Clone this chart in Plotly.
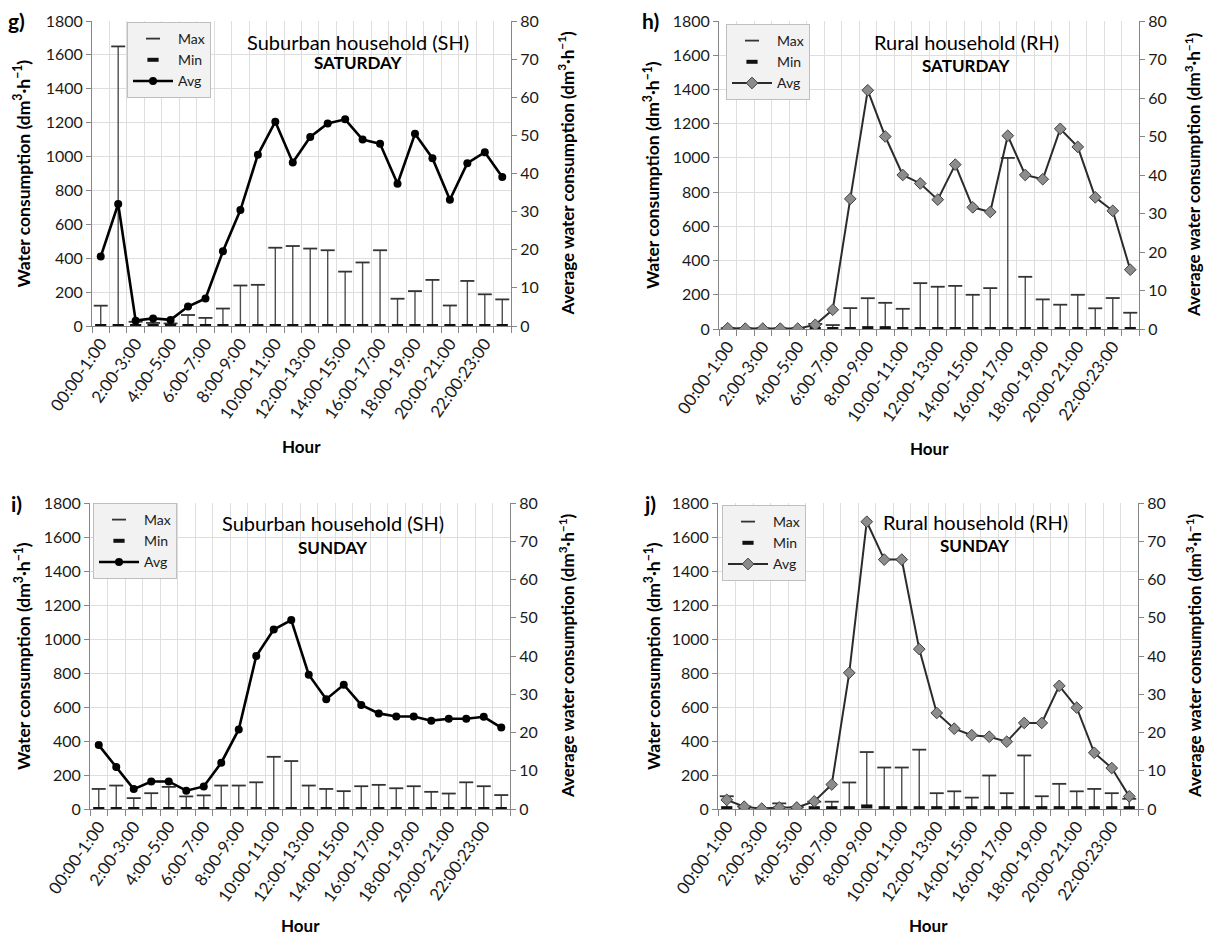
import plotly.graph_objects as go

# Hour-of-day categories (the 22:00 label is printed as in the source table)
hours = ["00:00-1:00", "1:00-2:00", "2:00-3:00", "3:00-4:00", "4:00-5:00", "5:00-6:00",
         "6:00-7:00", "7:00-8:00", "8:00-9:00", "9:00-10:00", "10:00-11:00", "11:00-12:00",
         "12:00-13:00", "13:00-14:00", "14:00-15:00", "15:00-16:00", "16:00-17:00",
         "17:00-18:00", "18:00-19:00", "19:00-20:00", "20:00-21:00", "21:00-22:00",
         "22:00:23:00", "23:00-24:00"]

# Suburban household, Saturday
sh_sat_max = [120, 1650, 25, 18, 15, 65, 48, 103, 239, 243, 462, 472, 457, 447, 321, 375,
              447, 161, 206, 272, 121, 266, 187, 157]
sh_sat_min = [0, 0, 0, 0, 0, 0, 0, 0, 0, 0, 0, 0, 0, 0, 0, 0, 0, 0, 0, 0, 0, 0, 0, 0]
sh_sat_avg = [18.2, 32.0, 1.4, 2.0, 1.6, 5.1, 7.2, 19.6, 30.4, 44.9, 53.6, 42.9, 49.6, 53.1,
              54.2, 48.9, 47.8, 37.3, 50.4, 44.0, 33.1, 42.7, 45.6, 39.1]

# Rural household, Saturday
rh_sat_max = [5, 3, 3, 2, 3, 30, 23, 122, 180, 153, 118, 268, 247, 252, 200, 239, 1000, 305,
              173, 142, 200, 121, 181, 95]
rh_sat_min = [0, 0, 0, 0, 0, 0, 0, 0, 5, 5, 0, 0, 0, 0, 0, 0, 0, 0, 0, 0, 0, 0, 0, 0]
rh_sat_avg = [0.2, 0.1, 0.1, 0.1, 0.1, 1.1, 5.0, 33.8, 62.0, 50.0, 40.0, 37.8, 33.6, 42.7,
              31.6, 30.4, 50.2, 40.0, 38.9, 52.0, 47.3, 34.2, 30.7, 15.4]

# Suburban household, Sunday
sh_sun_max = [118, 138, 64, 93, 130, 74, 80, 138, 138, 157, 307, 282, 138, 118, 105, 134, 142,
              122, 134, 101, 91, 157, 134, 82]
sh_sun_min = [0, 0, 0, 0, 0, 0, 0, 0, 0, 0, 0, 0, 0, 0, 0, 0, 0, 0, 0, 0, 0, 0, 0, 0]
sh_sun_avg = [16.7, 11.0, 5.2, 7.2, 7.2, 4.8, 5.9, 12.1, 20.8, 40.0, 46.9, 49.4, 35.1, 28.7,
              32.5, 27.2, 25.0, 24.2, 24.2, 23.1, 23.6, 23.6, 24.1, 21.3]

# Rural household, Sunday
rh_sun_max = [75, 15, 3, 33, 10, 43, 43, 156, 335, 244, 244, 349, 93, 104, 67, 197, 93, 315,
              75, 148, 104, 118, 93, 60]
rh_sun_min = [5, 5, 0, 5, 5, 5, 5, 5, 15, 5, 5, 5, 5, 5, 5, 5, 5, 5, 5, 5, 5, 5, 5, 5]
rh_sun_avg = [2.4, 0.6, 0.1, 0.4, 0.4, 2.0, 6.4, 35.6, 75.1, 65.2, 65.2, 41.8, 25.1, 21.0,
              19.3, 18.9, 17.6, 22.5, 22.5, 32.2, 26.5, 14.7, 10.7, 3.3]

panels = [
    dict(tag="g)", house="Suburban household (SH)", day="SATURDAY", mx=sh_sat_max,
         mn=sh_sat_min, avg=sh_sat_avg, rural=False,
         px=(92, 511), py=(21, 326), leg=(127, 22), title_x=358, title_y=(42, 63),
         tag_x=16, ltitle_x=22, rtitle_x=566, hour_y=446),
    dict(tag="h)", house="Rural household (RH)", day="SATURDAY", mx=rh_sat_max,
         mn=rh_sat_min, avg=rh_sat_avg, rural=True,
         px=(719, 1139), py=(21, 329), leg=(726, 24), title_x=966, title_y=(42, 65),
         tag_x=650, ltitle_x=652, rtitle_x=1193, hour_y=448),
    dict(tag="i)", house="Suburban household (SH)", day="SUNDAY", mx=sh_sun_max,
         mn=sh_sun_min, avg=sh_sun_avg, rural=False,
         px=(90, 510), py=(503, 809), leg=(93, 503), title_x=333, title_y=(523, 547),
         tag_x=16, ltitle_x=22, rtitle_x=566, hour_y=925),
    dict(tag="j)", house="Rural household (RH)", day="SUNDAY", mx=rh_sun_max,
         mn=rh_sun_min, avg=rh_sun_avg, rural=True,
         px=(718, 1138), py=(503, 809), leg=(722, 505), title_x=975, title_y=(522, 545),
         tag_x=650, ltitle_x=652, rtitle_x=1193, hour_y=925),
]

W, H = 1212, 938
FONT = "Lato, 'Open Sans', sans-serif"
AXIS = "#868686"
GRID = "#dedede"
TXT = "#1a1a1a"


def fx(p):
    return p / W


def fy(p):
    return 1 - p / H


xs = list(range(len(hours)))
fig = go.Figure()
layout = {}
annotations = []

for k, p in enumerate(panels):
    n = k + 1
    xname = "x" if n == 1 else f"x{n}"
    yname = "y" if n == 1 else f"y{n}"
    y2name = f"y{n + 4}"
    legname = "legend" if n == 1 else f"legend{n}"

    # high-low connector lines between hourly min and max
    lx, ly = [], []
    for i in xs:
        lx += [i, i, None]
        ly += [p["mn"][i], p["mx"][i], None]
    fig.add_trace(go.Scatter(x=lx, y=ly, mode="lines", xaxis=xname, yaxis=yname,
                             line=dict(color="#4d4d4d", width=1.4), showlegend=False,
                             hoverinfo="skip"))
    fig.add_trace(go.Scatter(x=xs, y=p["mx"], mode="markers", name="Max", xaxis=xname,
                             yaxis=yname, legend=legname,
                             marker=dict(symbol="line-ew", size=10,
                                         line=dict(color="#333333", width=1.8))))
    fig.add_trace(go.Scatter(x=xs, y=p["mn"], mode="markers", name="Min", xaxis=xname,
                             yaxis=yname, legend=legname,
                             marker=dict(symbol="line-ew", size=8,
                                         line=dict(color="#111111", width=4))))
    if p["rural"]:
        line = dict(color="#2b2b2b", width=2)
        marker = dict(symbol="diamond", size=9, color="#8c8c8c",
                      line=dict(color="#404040", width=1))
    else:
        line = dict(color="#000000", width=2.6)
        marker = dict(symbol="circle", size=8, color="#000000")
    fig.add_trace(go.Scatter(x=xs, y=p["avg"], mode="lines+markers", name="Avg",
                             xaxis=xname, yaxis=y2name, legend=legname,
                             line=line, marker=marker))

    layout["xaxis" if n == 1 else f"xaxis{n}"] = dict(
        domain=[fx(p["px"][0]), fx(p["px"][1])], anchor=yname, automargin=False,
        range=[-0.5, len(hours) - 0.5],
        tickmode="array", tickvals=xs[::2], ticktext=hours[::2], tickangle=-55,
        ticks="", showgrid=False, zeroline=False,
        showline=True, linecolor=AXIS, linewidth=1,
        tickfont=dict(family=FONT, size=17, color=TXT),
        minor=dict(tickmode="linear", tick0=-0.5, dtick=1, ticks="outside", ticklen=6,
                   tickcolor=AXIS, showgrid=True, gridcolor=GRID, gridwidth=1),
    )
    layout["yaxis" if n == 1 else f"yaxis{n}"] = dict(
        domain=[fy(p["py"][1]), fy(p["py"][0])], anchor=xname, automargin=False,
        range=[0, 1800], dtick=200, tick0=0,
        showgrid=True, gridcolor=GRID, zeroline=False,
        showline=True, linecolor=AXIS, ticks="outside", ticklen=5, tickcolor=AXIS,
        tickfont=dict(family=FONT, size=16, color=TXT),
    )
    layout[f"yaxis{n + 4}"] = dict(
        overlaying=yname, side="right", anchor=xname, automargin=False,
        range=[0, 80], dtick=10, tick0=0, showgrid=False, zeroline=False,
        showline=True, linecolor=AXIS, ticks="outside", ticklen=5, tickcolor=AXIS,
        tickfont=dict(family=FONT, size=16, color=TXT),
    )
    layout[legname] = dict(
        x=fx(p["leg"][0]), y=fy(p["leg"][1]), xanchor="left", yanchor="top",
        bgcolor="#f2f2f2", bordercolor="#bfbfbf", borderwidth=1,
        font=dict(family=FONT, size=14, color=TXT), itemwidth=40,
        tracegroupgap=0,
    )

    ymid = (p["py"][0] + p["py"][1]) / 2
    unit = "(dm<sup>3</sup>·h<sup>−1</sup>)"
    annotations += [
        dict(text=f"<b>{p['tag']}</b>", x=fx(p["tag_x"]), y=fy(p["py"][0]),
             font=dict(size=21, color="#000")),
        dict(text=p["house"], x=fx(p["title_x"]), y=fy(p["title_y"][0]),
             font=dict(size=20, color="#000")),
        dict(text=f"<b>{p['day']}</b>", x=fx(p["title_x"]), y=fy(p["title_y"][1]),
             font=dict(size=17, color="#000")),
        dict(text=f"<b>Water consumption {unit}</b>", x=fx(p["ltitle_x"]), y=fy(ymid),
             textangle=-90, font=dict(size=17.5, color="#000")),
        dict(text=f"<b>Average water consumption {unit}</b>", x=fx(p["rtitle_x"]),
             y=fy(ymid), textangle=-90, font=dict(size=17, color="#000")),
        dict(text="<b>Hour</b>", x=fx((p["px"][0] + p["px"][1]) / 2), y=fy(p["hour_y"]),
             font=dict(size=17, color="#000")),
    ]

for a in annotations:
    a.update(xref="paper", yref="paper", showarrow=False, xanchor="center",
             yanchor="middle")
    a["font"]["family"] = FONT

fig.update_layout(
    width=W, height=H, margin=dict(l=0, r=0, t=0, b=0, autoexpand=False),
    paper_bgcolor="white", plot_bgcolor="white",
    font=dict(family=FONT, color=TXT), annotations=annotations, **layout,
)

fig.write_html("out.html")
